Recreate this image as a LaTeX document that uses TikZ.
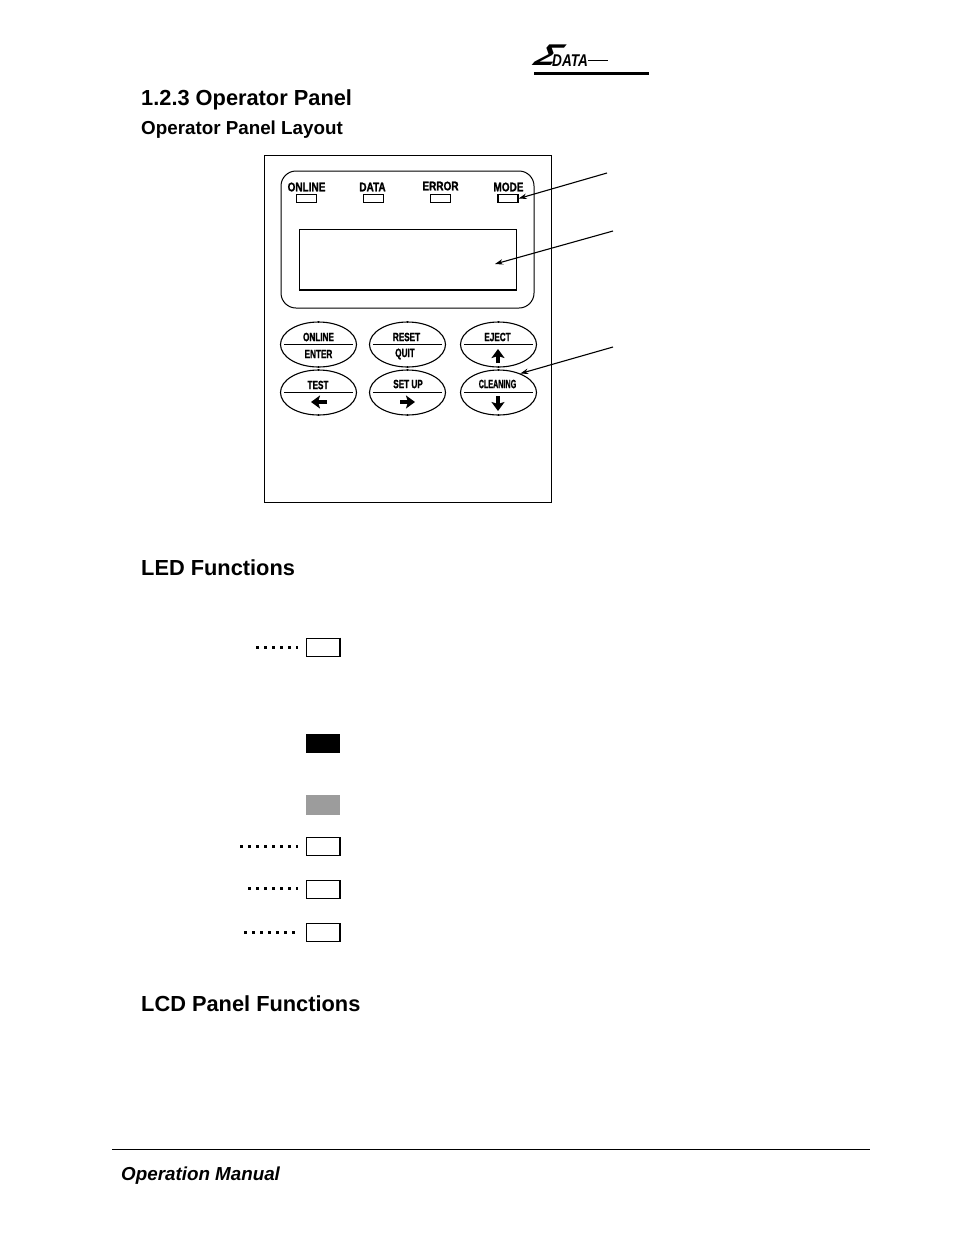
\documentclass[tikz,border=0pt]{standalone}
\usepackage{fontspec}
\setmainfont{Liberation Sans}
\newfontfamily\keyfont[FakeStretch=0.68,FakeBold=1.2]{Liberation Sans Bold}
\newfontfamily\ledfont[FakeStretch=0.8,FakeBold=1.2]{Liberation Sans Bold}
\newfontfamily\logofont[FakeStretch=0.8]{Liberation Sans Bold Italic}
\usetikzlibrary{shapes.geometric,arrows.meta}
\begin{document}
\begin{tikzpicture}[
    x=1pt,
    y=-1pt,
    >=stealth,
    heading/.style={
        anchor=base west,
        inner sep=0pt,
        font=\bfseries\fontsize{21.8}{24}\selectfont
    },
    subheading/.style={
        anchor=base west,
        inner sep=0pt,
        font=\bfseries\fontsize{18.8}{20}\selectfont
    },
    keylabel/.style={
        inner sep=0pt,
        font=\keyfont\fontsize{12}{12}\selectfont
    },
    ledlabel/.style={
        inner sep=0pt,
        font=\ledfont\fontsize{12.5}{12}\selectfont
    },
    led/.style={
        draw,
        line width=0.9pt,
        minimum width=20pt,
        minimum height=8.5pt,
        inner sep=0pt
    },
    legend/.style={
        draw,
        line width=1pt,
        minimum width=33pt,
        minimum height=18pt,
        inner sep=0pt
    },
    keybutton/.style={
        draw,
        ellipse,
        line width=1.1pt,
        minimum width=76pt,
        minimum height=45pt,
        inner sep=0pt
    },
    keyarrow/.style={
        -{Stealth[length=9pt,width=13pt,inset=2pt]},
        line width=3.5pt
    },
    pointer/.style={
        -{Stealth[length=8pt,width=5.5pt]},
        line width=1.1pt
    },
    leader/.style={
        line width=3pt,
        dash pattern=on 3pt off 5pt,
        shorten >=8pt
    }
    ]
    \useasboundingbox (0,0) rectangle (954,1235);

    \node[inner sep=0pt,font=\bfseries\fontsize{30}{30}\selectfont,xscale=1.2,xslant=0.7] (SIGMA) at (549.5,55) {Σ};
    \node[anchor=base west,inner sep=0pt,font=\logofont\fontsize{17}{17}\selectfont] (LOGO) at (552,66) {DATA};
    \coordinate (LOGOEND) at (608,60);
    \draw[line width=0.8pt] (LOGO.east |- LOGOEND) -- (LOGOEND);
    \coordinate (RULEA) at (534,73);
    \coordinate (RULEB) at (649,73);
    \draw[line width=3pt] (RULEA) -- (RULEB);

    \node[heading] (TITLE) at (141,105) {1.2.3 Operator Panel};
    \node[subheading] (LAYOUT) at (141,134) {Operator Panel Layout};

    \node[draw,line width=1pt,minimum width=287pt,minimum height=346.5pt,inner sep=0pt] (PANEL) at (408,328.75) {};
    \node[draw,line width=1pt,rounded corners=15pt,minimum width=253pt,minimum height=137pt,inner sep=0pt] (BEZEL) at (407.5,239.5) {};

    \node[ledlabel] at (306.5,187) {ONLINE};
    \node[ledlabel] at (372.5,187) {DATA};
    \node[ledlabel] at (440.5,186) {ERROR};
    \node[ledlabel] at (508.5,187) {MODE};
    \node[led] (LEDONLINE) at (306,198.5) {};
    \node[led] (LEDDATA) at (373,198.5) {};
    \node[led] (LEDERROR) at (440.5,198.5) {};
    \node[led,line width=1.4pt] (LEDMODE) at (508,198.5) {};

    \node[draw,line width=1pt,minimum width=217.5pt,minimum height=60.5pt,inner sep=0pt] (LCD) at (408,259.25) {};
    \draw[line width=2pt] (LCD.south west) -- (LCD.south east);

    \node[keybutton] (KEYA) at (318.5,344.5) {};
    \node[keybutton] (KEYB) at (407.5,344.5) {};
    \node[keybutton] (KEYC) at (498.5,344.5) {};
    \node[keybutton] (KEYD) at (318.5,392.5) {};
    \node[keybutton] (KEYE) at (407.5,392.5) {};
    \node[keybutton] (KEYF) at (498.5,392.5) {};

    \foreach \keyname in {KEYA,KEYB,KEYC,KEYD,KEYE,KEYF} {
        \draw[line width=1pt] (\keyname.north) -- ++(0,2);
        \draw[line width=1pt] (\keyname.south) -- ++(0,-2);
        \draw[line width=0.9pt] ([xshift=4pt]\keyname.west) -- ([xshift=-4pt]\keyname.east);
    }

    \node[keylabel] at (318.5,337) {ONLINE};
    \node[keylabel] at (318.5,354) {ENTER};
    \node[keylabel] at (406.5,337) {RESET};
    \node[keylabel] at (405,354) {QUIT};
    \node[keylabel] at (497.5,337) {EJECT};
    \node[keylabel] at (318,385) {TEST};
    \node[keylabel] at (408,384) {SET UP};
    \node[keylabel,xscale=0.88] at (497.5,384) {CLEANING};

    \draw[keyarrow] (498,363) -- (498,349);
    \draw[keyarrow] (498,396) -- (498,411);
    \draw[keyarrow] (327,402) -- (311,402);
    \draw[keyarrow] (400,402) -- (415,402);

    \coordinate (POINTLED) at (607,173);
    \coordinate (POINTLCD) at (613,231);
    \coordinate (LCDEND) at (495,264);
    \coordinate (POINTKEY) at (613,347);
    \draw[pointer] (POINTLED) -- (LEDMODE.east);
    \draw[pointer] (POINTLCD) -- (LCDEND);
    \draw[pointer] (POINTKEY) -- (KEYF.41);

    \node[heading] (LEDTITLE) at (141,575) {LED Functions};

    \node[legend] (OFFA) at (323,647) {};
    \node[legend,fill=black] (BLACKBOX) at (323,743) {};
    \node[legend,draw=none,fill=black!39,minimum width=34pt,minimum height=20pt] (GRAYBOX) at (323,805) {};
    \node[legend] (OFFB) at (323,846.5) {};
    \node[legend] (OFFC) at (323,889.5) {};
    \node[legend] (OFFD) at (323,932.5) {};

    \foreach \legendname in {OFFA,OFFB,OFFC,OFFD} {
        \draw[line width=2pt] (\legendname.north east) -- (\legendname.south east);
    }

    \coordinate (LEADA) at (256,647);
    \coordinate (LEADB) at (240,846);
    \coordinate (LEADC) at (248,888);
    \coordinate (LEADD) at (244,932);
    \draw[leader] (LEADA) -- (LEADA -| OFFA.west);
    \draw[leader] (LEADB) -- (LEADB -| OFFB.west);
    \draw[leader] (LEADC) -- (LEADC -| OFFC.west);
    \draw[leader] (LEADD) -- (LEADD -| OFFD.west);

    \node[heading] (LCDTITLE) at (141,1011) {LCD Panel Functions};

    \coordinate (FOOTA) at (112,1149);
    \coordinate (FOOTB) at (870,1149);
    \draw[line width=1pt] (FOOTA) -- (FOOTB);
    \node[anchor=base west,inner sep=0pt,font=\bfseries\itshape\fontsize{18.8}{20}\selectfont] (FOOTER) at (121,1180) {Operation Manual};
\end{tikzpicture}
\end{document}
